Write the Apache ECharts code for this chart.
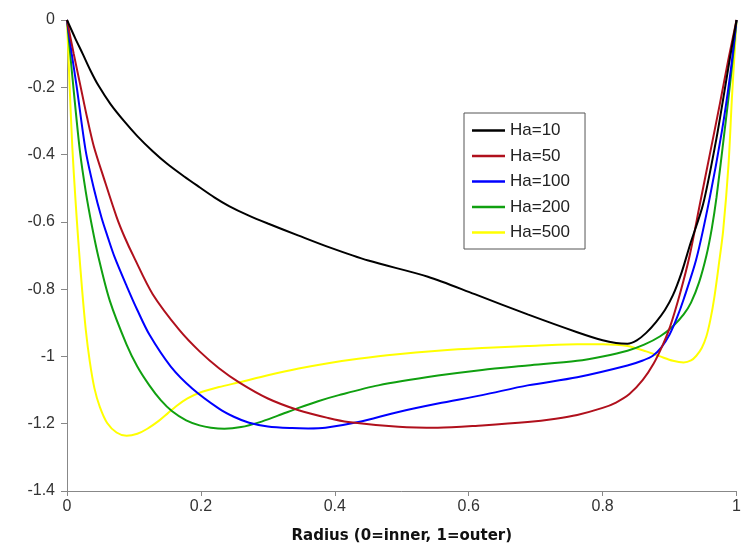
<!DOCTYPE html>
<html>
<head>
<meta charset="utf-8">
<script src="https://cdn.jsdelivr.net/npm/echarts@6/dist/echarts.min.js"></script>
<style>html,body{margin:0;padding:0;background:#fff}#c{width:744px;height:549px}</style>
</head>
<body>
<div id="c"></div>
<script>
const seriesNames = ['Ha=10', 'Ha=50', 'Ha=100', 'Ha=200', 'Ha=500'];
const xTicks = [0, 0.2, 0.4, 0.6, 0.8, 1];
const yTicks = [-1.4, -1.2, -1, -0.8, -0.6, -0.4, -0.2, 0];

const ha10 = [[0,0],[0.012,-0.053],[0.024,-0.103],[0.035,-0.15],[0.047,-0.195],[0.065,-0.25],[0.085,-0.3],[0.105,-0.345],[0.128,-0.39],[0.15,-0.428],[0.175,-0.465],[0.198,-0.497],[0.22,-0.527],[0.242,-0.553],[0.27,-0.58],[0.3,-0.605],[0.345,-0.64],[0.391,-0.675],[0.45,-0.715],[0.539,-0.763],[0.609,-0.815],[0.688,-0.875],[0.762,-0.928],[0.80,-0.952],[0.82,-0.96],[0.837,-0.962],[0.851,-0.952],[0.865,-0.93],[0.88,-0.897],[0.893,-0.862],[0.905,-0.818],[0.918,-0.75],[0.931,-0.665],[0.95,-0.548],[0.97,-0.352],[0.98,-0.235],[0.99,-0.115],[1,0]];
const ha50 = [[0,0],[0.01,-0.1],[0.02,-0.195],[0.03,-0.29],[0.04,-0.375],[0.055,-0.47],[0.074,-0.585],[0.086,-0.645],[0.1,-0.705],[0.128,-0.815],[0.168,-0.922],[0.198,-0.985],[0.227,-1.035],[0.257,-1.077],[0.3,-1.125],[0.346,-1.16],[0.39,-1.183],[0.42,-1.195],[0.495,-1.209],[0.554,-1.212],[0.62,-1.205],[0.688,-1.195],[0.73,-1.185],[0.762,-1.174],[0.80,-1.153],[0.82,-1.137],[0.84,-1.112],[0.86,-1.07],[0.876,-1.022],[0.89,-0.965],[0.901,-0.91],[0.916,-0.81],[0.93,-0.7],[0.945,-0.55],[0.96,-0.4],[0.975,-0.25],[0.988,-0.115],[1,0]];
const ha100 = [[0,0],[0.007,-0.1],[0.0144,-0.197],[0.028,-0.39],[0.04,-0.5],[0.0515,-0.587],[0.061,-0.646],[0.071,-0.704],[0.089,-0.79],[0.105,-0.862],[0.123,-0.935],[0.155,-1.03],[0.187,-1.095],[0.227,-1.155],[0.25,-1.18],[0.272,-1.197],[0.3,-1.208],[0.336,-1.213],[0.36,-1.214],[0.386,-1.212],[0.435,-1.195],[0.495,-1.165],[0.554,-1.14],[0.62,-1.115],[0.688,-1.086],[0.762,-1.062],[0.837,-1.027],[0.86,-1.012],[0.875,-0.998],[0.888,-0.972],[0.9,-0.935],[0.911,-0.885],[0.921,-0.83],[0.94,-0.71],[0.96,-0.528],[0.978,-0.332],[0.99,-0.17],[1,0]];
const ha200 = [[0,0],[0.005,-0.105],[0.0094,-0.197],[0.0193,-0.39],[0.028,-0.51],[0.037,-0.61],[0.047,-0.705],[0.064,-0.835],[0.089,-0.965],[0.105,-1.03],[0.123,-1.086],[0.14,-1.13],[0.157,-1.163],[0.178,-1.19],[0.198,-1.205],[0.215,-1.212],[0.235,-1.215],[0.26,-1.21],[0.287,-1.196],[0.315,-1.176],[0.346,-1.153],[0.375,-1.133],[0.406,-1.115],[0.465,-1.086],[0.554,-1.057],[0.62,-1.04],[0.688,-1.027],[0.762,-1.013],[0.8,-1.0],[0.837,-0.983],[0.862,-0.965],[0.886,-0.94],[0.905,-0.91],[0.921,-0.875],[0.932,-0.84],[0.944,-0.78],[0.955,-0.7],[0.963,-0.62],[0.97,-0.528],[0.982,-0.332],[0.992,-0.16],[1,0]];
const ha500 = [[0,0],[0.004,-0.2],[0.008,-0.38],[0.0125,-0.53],[0.017,-0.66],[0.0225,-0.8],[0.028,-0.92],[0.034,-1.015],[0.041,-1.095],[0.049,-1.15],[0.06,-1.198],[0.074,-1.226],[0.089,-1.236],[0.105,-1.23],[0.12,-1.215],[0.138,-1.19],[0.15,-1.17],[0.163,-1.148],[0.18,-1.125],[0.198,-1.108],[0.227,-1.091],[0.257,-1.077],[0.3,-1.056],[0.346,-1.036],[0.39,-1.02],[0.435,-1.007],[0.49,-0.994],[0.554,-0.983],[0.62,-0.975],[0.688,-0.969],[0.762,-0.964],[0.8,-0.964],[0.837,-0.969],[0.865,-0.985],[0.886,-1.0],[0.905,-1.013],[0.921,-1.018],[0.932,-1.012],[0.94,-0.998],[0.948,-0.975],[0.955,-0.94],[0.961,-0.89],[0.967,-0.822],[0.974,-0.72],[0.98,-0.626],[0.988,-0.43],[0.993,-0.235],[0.997,-0.1],[1,0]];

const allData = [ha10, ha50, ha100, ha200, ha500];
const colors = ['#000000', '#b0101c', '#0000ff', '#10a010', '#ffff00'];

const chart = echarts.init(document.getElementById('c'), null, {renderer: 'canvas'});
const axisLabelStyle = {color: '#333', fontSize: 16, fontFamily: 'Liberation Sans, Arial, sans-serif'};
chart.setOption({
  animation: false,
  backgroundColor: '#ffffff',
  grid: {left: 67, right: 4, top: 20, bottom: 52, containLabel: false},
  legend: {
    orient: 'vertical',
    left: 464, top: 113,
    data: seriesNames,
    icon: 'rect',
    itemWidth: 33, itemHeight: 2.5, itemGap: 6.5,
    padding: [8, 15, 7, 8],
    borderColor: '#555', borderWidth: 1,
    backgroundColor: '#fff',
    textStyle: {color: '#222', fontSize: 17, lineHeight: 19, fontFamily: 'Liberation Sans, Arial, sans-serif'}
  },
  xAxis: {
    type: 'value', min: xTicks[0], max: xTicks[xTicks.length - 1], interval: 0.2,
    name: 'Radius (0=inner, 1=outer)', nameLocation: 'middle', nameGap: 38,
    nameTextStyle: {color: '#111', fontSize: 15, fontWeight: 'bold', fontFamily: 'DejaVu Sans, sans-serif'},
    axisLine: {show: true, onZero: false, lineStyle: {color: '#888', width: 1}},
    axisTick: {show: true, inside: false, length: 5, lineStyle: {color: '#888'}},
    axisLabel: Object.assign({margin: 8}, axisLabelStyle),
    splitLine: {show: false}
  },
  yAxis: {
    type: 'value', min: yTicks[0], max: yTicks[yTicks.length - 1], interval: 0.2,
    axisLine: {show: true, onZero: false, lineStyle: {color: '#888', width: 1}},
    axisTick: {show: true, inside: false, length: 6, lineStyle: {color: '#888'}},
    axisLabel: Object.assign({margin: 12}, axisLabelStyle),
    splitLine: {show: false}
  },
  series: seriesNames.map((n, i) => ({
    name: n, type: 'line', data: allData[i], symbol: 'none',
    smooth: 0.3,
    lineStyle: {color: colors[i], width: 2},
    itemStyle: {color: colors[i]},
    z: 10 - i
  }))
});
</script>
</body>
</html>
